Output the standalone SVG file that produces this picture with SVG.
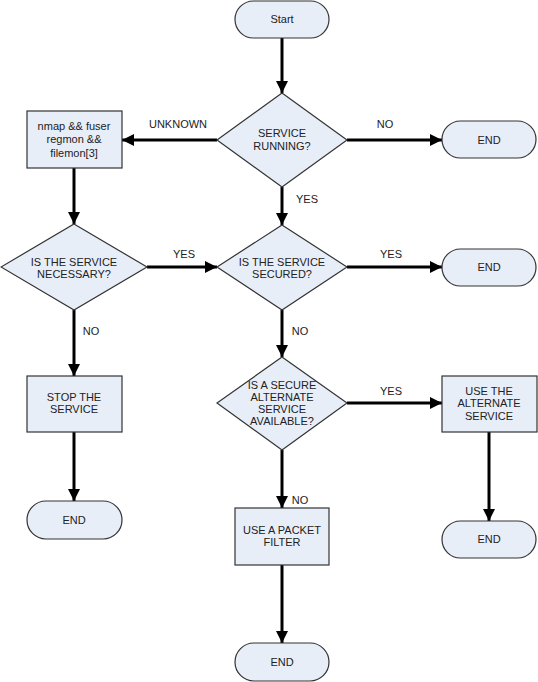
<svg xmlns="http://www.w3.org/2000/svg" width="538" height="682" viewBox="0 0 538 682">
<style>
.s{fill:#E8EEF8;stroke:#333;stroke-width:1.2}
.t{font-family:"Liberation Sans",Arial,sans-serif;font-size:11px;fill:#222;text-anchor:middle}
.c{stroke:#000;stroke-width:3;fill:none;marker-end:url(#a)}
</style>
<defs>
<marker id="a" markerUnits="userSpaceOnUse" markerWidth="13" markerHeight="13" refX="12" refY="6" orient="auto">
<path d="M0,0 L12,6 L0,12 z" fill="#000"/>
</marker>
</defs>
<rect width="538" height="682" fill="#fff"/>
<g id="connectors">
<line class="c" x1="282" y1="38" x2="282" y2="93"/>
<line class="c" x1="217" y1="140" x2="122" y2="140"/>
<line class="c" x1="347" y1="140" x2="442" y2="140"/>
<line class="c" x1="282" y1="187" x2="282" y2="225"/>
<line class="c" x1="74" y1="168" x2="74" y2="224"/>
<line class="c" x1="147" y1="267" x2="217" y2="267"/>
<line class="c" x1="347" y1="267" x2="442" y2="267"/>
<line class="c" x1="282" y1="310" x2="282" y2="357"/>
<line class="c" x1="74" y1="310" x2="74" y2="376"/>
<line class="c" x1="74" y1="432" x2="74" y2="501"/>
<line class="c" x1="347" y1="403" x2="442" y2="403"/>
<line class="c" x1="282" y1="450" x2="282" y2="508"/>
<line class="c" x1="489" y1="432" x2="489" y2="521"/>
<line class="c" x1="282" y1="565" x2="282" y2="643"/>
<text class="t" x="178" y="128">UNKNOWN</text>
<text class="t" x="385" y="128">NO</text>
<text class="t" x="307" y="203">YES</text>
<text class="t" x="184" y="258">YES</text>
<text class="t" x="391" y="258">YES</text>
<text class="t" x="91" y="335">NO</text>
<text class="t" x="300" y="335">NO</text>
<text class="t" x="391" y="395">YES</text>
<text class="t" x="300" y="504">NO</text>
</g>
<g id="start">
<rect class="s" x="235" y="1" width="94" height="37" rx="18.5"/>
<text class="t" x="282" y="23">Start</text>
</g>
<g id="running">
<polygon class="s" points="282,93 347,140 282,187 217,140"/>
<text class="t" x="282" y="137">SERVICE</text>
<text class="t" x="282" y="150">RUNNING?</text>
</g>
<g id="end1">
<rect class="s" x="442" y="121" width="94" height="37" rx="18.5"/>
<text class="t" x="489" y="144">END</text>
</g>
<g id="nmap">
<rect class="s" x="27" y="111" width="95" height="57"/>
<text class="t" x="74" y="130">nmap &amp;&amp; fuser</text>
<text class="t" x="74" y="143">regmon &amp;&amp;</text>
<text class="t" x="74" y="157">filemon[3]</text>
</g>
<g id="necessary">
<polygon class="s" points="74,224 147,267 74,310 1,267"/>
<text class="t" x="74" y="266">IS THE SERVICE</text>
<text class="t" x="74" y="278">NECESSARY?</text>
</g>
<g id="secured">
<polygon class="s" points="282,225 347,267 282,310 217,267"/>
<text class="t" x="282" y="266">IS THE SERVICE</text>
<text class="t" x="282" y="278">SECURED?</text>
</g>
<g id="end2">
<rect class="s" x="442" y="249" width="94" height="37" rx="18.5"/>
<text class="t" x="489" y="271">END</text>
</g>
<g id="stop">
<rect class="s" x="27" y="376" width="95" height="56"/>
<text class="t" x="74" y="401">STOP THE</text>
<text class="t" x="74" y="413">SERVICE</text>
</g>
<g id="end3">
<rect class="s" x="27" y="501" width="95" height="38" rx="19"/>
<text class="t" x="74" y="524">END</text>
</g>
<g id="alternate">
<polygon class="s" points="282,357 347,403 282,450 217,403"/>
<text class="t" x="282" y="389">IS A SECURE</text>
<text class="t" x="282" y="401">ALTERNATE</text>
<text class="t" x="282" y="413">SERVICE</text>
<text class="t" x="282" y="425">AVAILABLE?</text>
</g>
<g id="usealt">
<rect class="s" x="442" y="376" width="95" height="56"/>
<text class="t" x="489" y="395">USE THE</text>
<text class="t" x="489" y="407">ALTERNATE</text>
<text class="t" x="489" y="420">SERVICE</text>
</g>
<g id="end4">
<rect class="s" x="442" y="521" width="94" height="37" rx="18.5"/>
<text class="t" x="489" y="543">END</text>
</g>
<g id="packet">
<rect class="s" x="235" y="508" width="94" height="57"/>
<text class="t" x="282" y="534">USE A PACKET</text>
<text class="t" x="282" y="546">FILTER</text>
</g>
<g id="end5">
<rect class="s" x="235" y="643" width="94" height="38" rx="19"/>
<text class="t" x="282" y="666">END</text>
</g>
</svg>
